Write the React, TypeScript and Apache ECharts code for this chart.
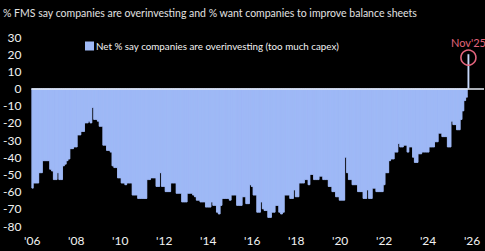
import React, { useEffect, useRef } from "react";
import * as echarts from "echarts";

const titleText = "% FMS say companies are overinvesting and % want companies to improve balance sheets";
const seriesName = "Net % say companies are overinvesting (too much capex)";
const calloutLabel = "Nov'25";

const y2006 = [-58, -55, -55, -55, -49, -49, -42, -42, -42, -42, -47, -48];
const y2007 = [-53, -53, -49, -53, -53, -45, -44, -42, -41, -35, -35, -34];
const y2008 = [-34, -27, -27, -25, -25, -20, -20, -19, -20, -11, -18, -18];
const y2009 = [-19, -22, -22, -33, -33, -36, -36, -37, -45, -46, -46, -52];
const y2010 = [-52, -55, -55, -56, -55, -55, -55, -62, -62, -62, -64, -64];
const y2011 = [-64, -64, -64, -53, -53, -52, -52, -52, -57, -57, -49, -57];
const y2012 = [-57, -60, -60, -60, -55, -55, -55, -61, -61, -61, -66, -66];
const y2013 = [-66, -61, -61, -61, -62, -63, -65, -65, -66, -66, -66, -69];
const y2014 = [-69, -69, -66, -68, -68, -72, -73, -68, -64, -64, -64, -64];
const y2015 = [-65, -62, -62, -62, -68, -68, -68, -63, -63, -67, -67, -56];
const y2016 = [-57, -62, -62, -72, -72, -66, -70, -71, -71, -75, -75, -72];
const y2017 = [-72, -68, -68, -72, -73, -72, -62, -62, -62, -64, -64, -59];
const y2018 = [-63, -63, -55, -55, -55, -53, -53, -56, -50, -50, -53, -53];
const y2019 = [-53, -51, -51, -53, -53, -53, -57, -57, -60, -60, -63, -63];
const y2020 = [-65, -65, -65, -40, -49, -53, -53, -56, -56, -56, -60, -60];
const y2021 = [-60, -64, -64, -59, -64, -64, -58, -58, -60, -60, -60, -60];
const y2022 = [-56, -49, -49, -42, -41, -41, -37, -37, -32, -34, -34, -33];
const y2023 = [-33, -37, -34, -34, -40, -43, -43, -38, -38, -37, -37, -37];
const y2024 = [-37, -34, -34, -34, -31, -31, -26, -26, -28, -28, -28, -34];
const y2025 = [-34, -19, -21, -21, -24, -24, -18, -13, -7, -5, 20];

const startYear = 2006;
const totalMonths = 247; // Jan 2006 .. Jul 2026 (axis span)

const FONT = "Lato, 'Liberation Sans', sans-serif";

export default function App() {
  const ref = useRef<HTMLDivElement>(null);

  useEffect(() => {
    if (!ref.current) return;
    const chart = echarts.init(ref.current, undefined, { renderer: "svg" });

    const values: (number | null)[] = [
      ...y2006, ...y2007, ...y2008, ...y2009, ...y2010,
      ...y2011, ...y2012, ...y2013, ...y2014, ...y2015,
      ...y2016, ...y2017, ...y2018, ...y2019, ...y2020,
      ...y2021, ...y2022, ...y2023, ...y2024, ...y2025,
    ];
    const lastIndex = values.length - 1;
    const categories: string[] = [];
    for (let i = 0; i < totalMonths; i++) {
      const y = startYear + Math.floor(i / 12);
      const m = (i % 12) + 1;
      categories.push(`${y}-${m < 10 ? "0" + m : m}`);
    }
    const blue = "#9fb9f6";
    const spike = "#c8d8fb";
    const barData = categories.map((_, i) => {
      if (i > lastIndex) return null;
      if (i === lastIndex) {
        return { value: values[i], itemStyle: { color: spike, borderColor: spike, borderWidth: 0.3 } };
      }
      return values[i];
    });
    const areaData = categories.map((_, i) => (i < lastIndex ? values[i] : null));

    chart.setOption({
      animation: false,
      backgroundColor: "#000000",
      title: {
        text: titleText,
        left: -2,
        top: 2,
        textStyle: { color: "#e2e2e2", fontSize: 10.5, fontWeight: "normal", fontFamily: FONT },
      },
      legend: {
        left: 80,
        top: 36,
        icon: "rect",
        itemWidth: 7,
        itemHeight: 7,
        itemGap: 4,
        textStyle: { color: "#f2f2f2", fontSize: 9.8, fontFamily: FONT, padding: [0, 0, 0, -2] },
        data: [{ name: seriesName, itemStyle: { color: blue } }],
      },
      grid: { left: 27, right: 1, top: 37, height: 189 },
      xAxis: {
        type: "category",
        data: categories,
        boundaryGap: true,
        axisLine: { show: false },
        axisTick: { show: false },
        splitLine: { show: false },
        axisLabel: {
          color: "#f2f2f2",
          fontSize: 12,
          fontFamily: FONT,
          margin: 8,
          interval: (index: number) => index % 24 === 0,
          formatter: (v: string) => "'" + v.slice(2, 4),
        },
      },
      yAxis: {
        type: "value",
        min: -80,
        max: 30,
        interval: 10,
        axisLine: { show: false },
        axisTick: { show: false },
        splitLine: { show: false },
        axisLabel: { color: "#f2f2f2", fontSize: 12, fontFamily: FONT, margin: 10 },
      },
      series: [
        {
          name: "fill",
          type: "line",
          data: areaData,
          step: "middle",
          symbol: "none",
          silent: true,
          z: 1,
          lineStyle: { width: 0.8, color: blue },
          areaStyle: { color: blue, opacity: 1, origin: "auto" },
        },
        {
          name: seriesName,
          type: "bar",
          data: barData,
          z: 2,
          barCategoryGap: "0%",
          barGap: "0%",
          itemStyle: { color: blue, borderColor: blue, borderWidth: 0.5 },
          markLine: {
            silent: true,
            symbol: "none",
            label: { show: false },
            lineStyle: { color: "#e6ebf6", width: 1.5, type: "solid" },
            data: [{ yAxis: 0 }],
          },
          markPoint: {
            silent: true,
            symbol: "circle",
            symbolSize: 15,
            itemStyle: { color: "rgba(0,0,0,0)", borderColor: "#e2647c", borderWidth: 1.6 },
            label: {
              show: true,
              position: "top",
              distance: 1,
              formatter: calloutLabel,
              color: "#e2647c",
              fontSize: 11,
              fontFamily: FONT,
            },
            data: [{ coord: [categories[lastIndex], 18] }],
          },
        },
      ],
    });

    return () => chart.dispose();
  }, []);

  return (
    <div
      ref={ref}
      style={{ position: "absolute", left: 0, top: 0, width: 485, height: 251, background: "#000" }}
    />
  );
}
